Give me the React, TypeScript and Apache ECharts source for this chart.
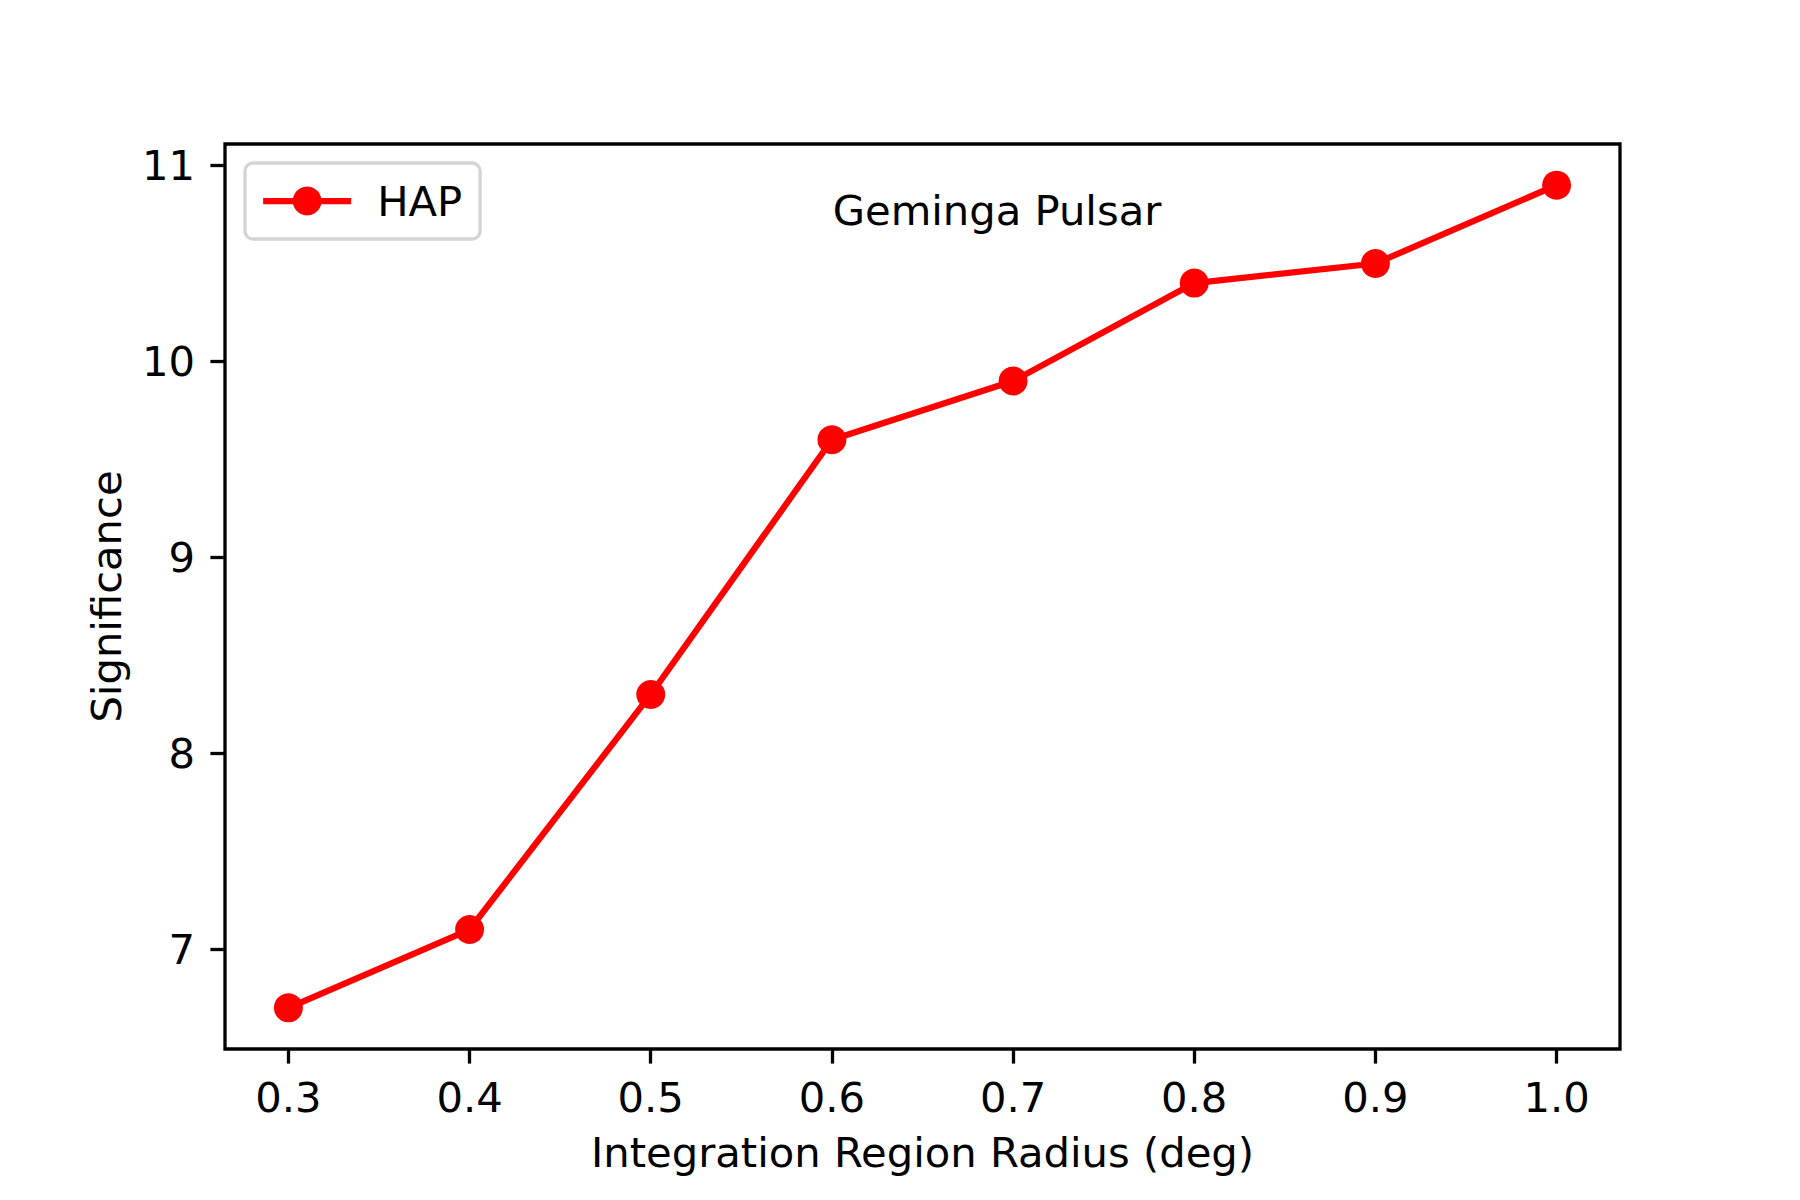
import React, { useEffect, useRef } from "react";
import * as echarts from "echarts";

const radius = [0.3, 0.4, 0.5, 0.6, 0.7, 0.8, 0.9, 1.0];
const significance = [6.7, 7.1, 8.3, 9.6, 9.9, 10.4, 10.5, 10.9];
const xTicks = [0.3, 0.4, 0.5, 0.6, 0.7, 0.8, 0.9, 1.0];
const yTicks = [7, 8, 9, 10, 11];
const seriesName = "HAP";
const annotation = "Geminga Pulsar";
const xLabel = "Integration Region Radius (deg)";
const yLabel = "Significance";

const FONT = "DejaVu Sans";
const FS = 41.7;

export default function App() {
  const ref = useRef<HTMLDivElement>(null);
  useEffect(() => {
    if (!ref.current) return;
    const chart = echarts.init(ref.current, null, { renderer: "svg" });
    const xMin = 0.3 - 0.035;
    const xMax = 1.0 + 0.035;
    const yMin = 6.7 - 0.21;
    const yMax = 10.9 + 0.21;
    chart.setOption({
      animation: false,
      backgroundColor: "#ffffff",
      grid: {
        left: 225,
        top: 144,
        width: 1395,
        height: 905,
        show: true,
        borderColor: "#000000",
        borderWidth: 3.3,
        backgroundColor: "transparent",
        containLabel: false,
      },
      legend: {
        left: 245,
        top: 163,
        orient: "vertical",
        padding: [17, 18, 17, 15],
        itemWidth: 88,
        itemHeight: 36,
        backgroundColor: "#ffffff",
        borderColor: "#d4d4d4",
        borderWidth: 3.3,
        borderRadius: 8,
        lineStyle: { width: 6.25, color: "#ff0000" },
        itemStyle: { color: "#ff0000" },
        textStyle: {
          fontFamily: FONT,
          fontSize: FS,
          lineHeight: 36,
          color: "#000000",
          padding: [0, 0, 0, 21],
        },
        data: [seriesName],
      },
      xAxis: {
        type: "value",
        min: xMin,
        max: xMax,
        name: xLabel,
        nameLocation: "middle",
        nameGap: 82,
        nameTextStyle: { fontFamily: FONT, fontSize: FS, color: "#000000" },
        axisLine: { show: false },
        splitLine: { show: false },
        axisTick: {
          show: true,
          inside: false,
          length: 14.6,
          lineStyle: { color: "#000000", width: 3.3 },
          customValues: xTicks,
        },
        axisLabel: {
          fontFamily: FONT,
          fontSize: FS,
          color: "#000000",
          margin: 27,
          customValues: xTicks,
          formatter: (v: number) => v.toFixed(1),
        },
      },
      yAxis: {
        type: "value",
        min: yMin,
        max: yMax,
        name: yLabel,
        nameLocation: "middle",
        nameGap: 98,
        nameTextStyle: { fontFamily: FONT, fontSize: FS, color: "#000000" },
        axisLine: { show: false },
        splitLine: { show: false },
        axisTick: {
          show: true,
          inside: false,
          length: 14.6,
          lineStyle: { color: "#000000", width: 3.3 },
          customValues: yTicks,
        },
        axisLabel: {
          fontFamily: FONT,
          fontSize: FS,
          color: "#000000",
          margin: 30,
          customValues: yTicks,
          formatter: (v: number) => String(Math.round(v)),
        },
      },
      graphic: [
        {
          type: "text",
          x: 997,
          y: 210,
          style: {
            text: annotation,
            fontFamily: FONT,
            fontSize: FS,
            fill: "#000000",
            textAlign: "center",
            textVerticalAlign: "middle",
          },
        },
      ],
      series: [
        {
          name: seriesName,
          type: "line",
          data: radius.map((r, i) => [r, significance[i]]),
          symbol: "circle",
          symbolSize: 29,
          lineStyle: { color: "#ff0000", width: 6.25 },
          itemStyle: { color: "#ff0000" },
          z: 3,
        },
      ],
    });
    return () => chart.dispose();
  }, []);
  return <div ref={ref} style={{ width: 1800, height: 1200, position: "absolute", left: 0, top: 0 }} />;
}
